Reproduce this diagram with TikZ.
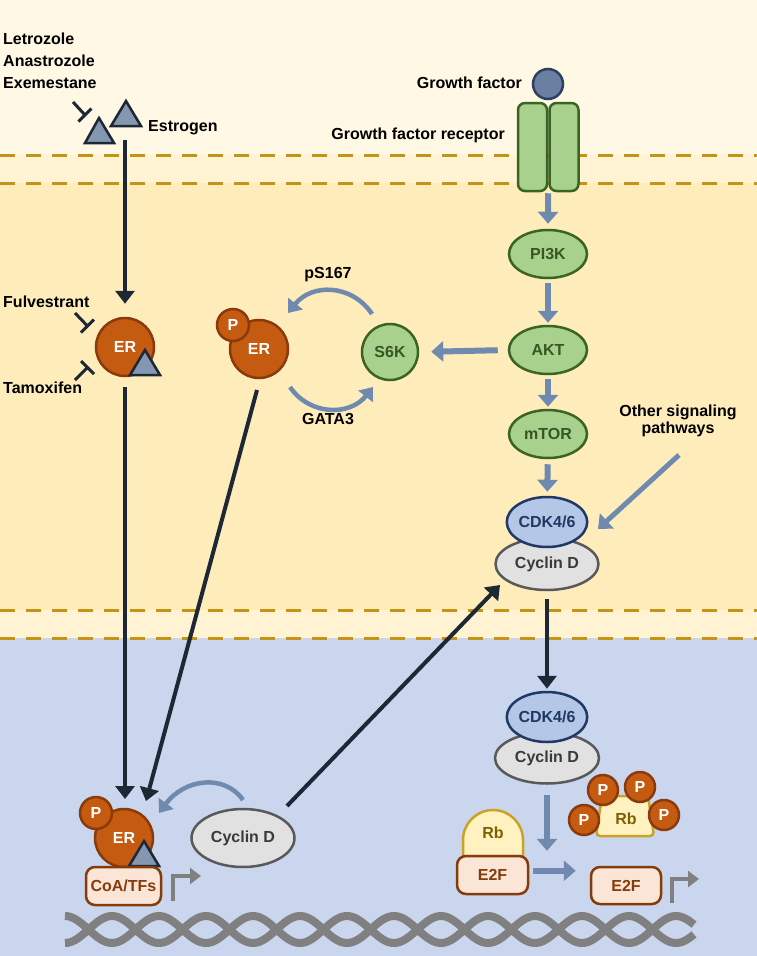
\documentclass[tikz,border=0pt]{standalone}
\usepackage{fontspec}
\setmainfont{Liberation Sans}
\usetikzlibrary{shapes.geometric,arrows.meta}
\definecolor{bgtop}{HTML}{FFF8E5}
\definecolor{bgmem}{HTML}{FFF3D3}
\definecolor{bgcyt}{HTML}{FEEDBB}
\definecolor{bgnuc}{HTML}{CAD6EE}
\definecolor{dashc}{HTML}{C49419}
\definecolor{orfill}{HTML}{C55A11}
\definecolor{ordraw}{HTML}{8A3A0C}
\definecolor{grfill}{HTML}{A9D18E}
\definecolor{grdraw}{HTML}{3B6324}
\definecolor{grtext}{HTML}{375623}
\definecolor{cdkfill}{HTML}{B4C7E7}
\definecolor{cdkdraw}{HTML}{1F3864}
\definecolor{cycfill}{HTML}{E1E1E1}
\definecolor{cycdraw}{HTML}{595959}
\definecolor{cyctext}{HTML}{3A3A3A}
\definecolor{rbfill}{HTML}{FFF2C0}
\definecolor{rbdraw}{HTML}{C9A227}
\definecolor{rbtext}{HTML}{7F6000}
\definecolor{efill}{HTML}{FBE5D6}
\definecolor{edraw}{HTML}{843C0C}
\definecolor{steel}{HTML}{6F8AAE}
\definecolor{darkarr}{HTML}{1E2835}
\definecolor{trifill}{HTML}{8497B0}
\definecolor{gffill}{HTML}{6B7FA3}
\definecolor{gfdraw}{HTML}{2F4060}
\definecolor{dnac}{HTML}{808080}
\tikzset{
  lbl/.style={font=\fontsize{16}{22}\selectfont\bfseries, inner sep=0pt, text=black},
  ntext/.style={font=\fontsize{16}{19}\selectfont\bfseries, inner sep=0pt},
  erball/.style={circle, fill=orfill, draw=ordraw, line width=2.5pt, minimum size=58pt, ntext, text=white},
  pball/.style={circle, fill=orfill, draw=ordraw, line width=2.5pt, minimum size=32pt, ntext, text=white},
  greenell/.style={ellipse, fill=grfill, draw=grdraw, line width=2.5pt, minimum width=78pt, minimum height=48pt, ntext, text=grtext},
  cdkell/.style={ellipse, fill=cdkfill, draw=cdkdraw, line width=2.5pt, minimum width=78pt, minimum height=50pt, ntext, text=cdkdraw},
  cycell/.style={ellipse, fill=cycfill, draw=cycdraw, line width=2.5pt, minimum width=103pt, minimum height=52pt, ntext, text=cyctext},
  ebox/.style={rectangle, rounded corners=9pt, fill=efill, draw=edraw, line width=2.5pt, minimum width=71pt, minimum height=38pt, ntext, text=edraw},
  tri/.style={fill=trifill, draw=darkarr, line width=2.5pt, line join=miter},
  sarrow/.style={draw=steel, line width=6pt, -{Triangle[length=12pt,width=20pt]}},
  carrow/.style={draw=steel, line width=4.5pt, -{Triangle[length=12pt,width=18pt]}},
  barrow/.style={draw=darkarr, line width=4pt, -{Triangle[length=13pt,width=19pt]}},
  inhib/.style={draw=darkarr, line width=3pt},
  tarrow/.style={draw=dnac, line width=4pt, -{Triangle[length=11pt,width=16pt]}},
  memline/.style={draw=dashc, line width=3pt, dash pattern=on 15pt off 11pt},
  dna/.style={draw=dnac, line width=8pt},
}
\begin{document}
\begin{tikzpicture}[x=1pt,y=-1pt]
\useasboundingbox (0,0) rectangle (757,956);
% backgrounds
\fill[bgtop] (0,0) rectangle (757,155);
\fill[bgmem] (0,155) rectangle (757,183);
\fill[bgcyt] (0,183) rectangle (757,610);
\fill[bgmem] (0,610) rectangle (757,638);
\fill[bgnuc] (0,638) rectangle (757,956);
\draw[memline] (0,155) -- (757,155);
\draw[memline] (0,183) -- (757,183);
\draw[memline] (0,610) -- (757,610);
\draw[memline] (0,638) -- (757,638);
% DNA
\draw[dna] plot[domain=65:694, samples=240] (\x, {929.5 + 13.5*cos(3.829787*(\x-65))});
\draw[dna] plot[domain=65:694, samples=240] (\x, {929.5 - 13.5*cos(3.829787*(\x-65))});
% labels
\node[lbl, anchor=north west, align=left] (drugs) at (3,33) {Letrozole\\Anastrozole\\Exemestane};
\node[lbl, anchor=west] (estrolbl) at (148,128) {Estrogen};
\node[lbl, anchor=east] (gflbl) at (522,83) {Growth factor};
\node[lbl, anchor=east] (gfrlbl) at (505,135) {Growth factor receptor};
\node[lbl, anchor=west] (fulv) at (3,302) {Fulvestrant};
\node[lbl, anchor=west] (tamo) at (3,388) {Tamoxifen};
\node[lbl] (ps167) at (328,275) {pS167};
\node[lbl] (gata3) at (328,419) {GATA3};
\node[lbl, align=center, font=\fontsize{16}{17}\selectfont\bfseries] (other) at (678,421) {Other signaling\\pathways};
% estrogen triangles
\draw[tri] (99,118) -- (114,143) -- (85,143) -- cycle;
\draw[tri] (126,101) -- (141,126) -- (111,126) -- cycle;
% growth factor + receptor
\node[circle, fill=gffill, draw=gfdraw, line width=2.5pt, minimum size=30pt, inner sep=0] (gf) at (548,84) {};
\node[rectangle, rounded corners=7pt, fill=grfill, draw=grdraw, line width=2.5pt, minimum width=29pt, minimum height=88pt, inner sep=0] (recl) at (532.5,147) {};
\node[rectangle, rounded corners=7pt, fill=grfill, draw=grdraw, line width=2.5pt, minimum width=29pt, minimum height=88pt, inner sep=0] (recr) at (564,147) {};
% pathway nodes
\node[greenell] (pi3k) at (548,254) {PI3K};
\node[greenell] (akt) at (548,350) {AKT};
\node[greenell] (mtor) at (548,434) {mTOR};
\node[cycell] (cyc1) at (547,564) {Cyclin D};
\node[cdkell] (cdk1) at (547,522) {CDK4/6};
\node[cycell, minimum width=104pt, minimum height=51pt] (cyc2) at (547,758) {Cyclin D};
\node[cdkell] (cdk2) at (547,717) {CDK4/6};
\node[circle, fill=grfill, draw=grdraw, line width=2.5pt, minimum size=56pt, ntext, text=grtext] (s6k) at (390,352) {S6K};
% ER
\node[erball] (er1) at (125,347) {ER};
\draw[tri] (145,350) -- (160,375) -- (130,375) -- cycle;
\node[erball] (per) at (259,349) {ER};
\node[pball] (pp1) at (233,325) {P};
\node[erball] (er2) at (124,838) {ER};
\node[pball] (pp2) at (96,813) {P};
\draw[tri] (144,841) -- (159,866) -- (129,866) -- cycle;
\node[ebox, minimum width=75pt] (coa) at (123.5,886) {CoA/TFs};
\node[cycell, minimum height=58pt] (cycb) at (243,838) {Cyclin D};
% Rb / E2F
\path[fill=rbfill, draw=rbdraw, line width=2.5pt] (463,856) -- (463,840) arc[start angle=180, end angle=360, radius=30] -- (523,856) -- cycle;
\node[ntext, text=rbtext] (rb1) at (493,833) {Rb};
\node[ebox] (e2f1) at (492.5,875) {E2F};
\path[fill=rbfill, draw=rbdraw, line width=2.5pt, rounded corners=4pt] (596,836) -- (602,796) -- (648,796) -- (654,836) -- cycle;
\node[ntext, text=rbtext] (rb2) at (626,819) {Rb};
\node[pball, minimum size=30pt] (rp1) at (603,790) {P};
\node[pball, minimum size=30pt] (rp2) at (640,787) {P};
\node[pball, minimum size=30pt] (rp3) at (584,820) {P};
\node[pball, minimum size=30pt] (rp4) at (664,815) {P};
\node[ebox, minimum width=70pt, minimum height=37pt] (e2f2) at (626,885.5) {E2F};
% coordinates for connector ends
\coordinate (estrotop) at (125,140);
\coordinate (lbar1s) at (73,102);
\coordinate (lbar1e) at (85,115);
\coordinate (lbar1a) at (78.5,121.5);
\coordinate (lbar1b) at (91.5,108.5);
\coordinate (fulvs) at (75,313);
\coordinate (fulve) at (87.5,326);
\coordinate (fulva) at (81,332.5);
\coordinate (fulvb) at (94,319.5);
\coordinate (tamos) at (75,380);
\coordinate (tamoe) at (87.5,367.5);
\coordinate (tamoa) at (81,361);
\coordinate (tamob) at (94,374);
\coordinate (er1bot) at (125,387);
\coordinate (er2tipa) at (125,799);
\coordinate (perbot) at (257,390);
\coordinate (er2tipb) at (146,801);
\coordinate (cycbtop) at (287,806);
\coordinate (cyc1tip) at (500,585);
\coordinate (othertail) at (679,455);
\coordinate (cdk1tip) at (598,529);
\coordinate (tx1) at (173,901);
\coordinate (tx1e) at (201,876);
\coordinate (tx2) at (672,903);
\coordinate (tx2e) at (699,879);
% inhibitors
\draw[inhib] (lbar1s) -- (lbar1e) (lbar1a) -- (lbar1b);
\draw[inhib] (fulvs) -- (fulve) (fulva) -- (fulvb);
\draw[inhib] (tamos) -- (tamoe) (tamoa) -- (tamob);
% black arrows
\draw[barrow, shorten >=13pt] (estrotop) -- (er1.north);
\draw[barrow] (er1bot) -- (er2tipa);
\draw[barrow] (perbot) -- (er2tipb);
\draw[barrow] (cycbtop) -- (cyc1tip);
\draw[barrow, shorten <=8pt, shorten >=2pt] (cyc1.south) -- (cdk2.north);
% steel arrows
\draw[sarrow, shorten <=4pt, shorten >=5pt] ([yshift=3pt]recl.south east) -- (pi3k.north);
\draw[sarrow, shorten <=4pt, shorten >=2pt] (pi3k) -- (akt);
\draw[sarrow, shorten <=4pt, shorten >=2pt] (akt) -- (mtor);
\draw[sarrow, shorten <=5pt, shorten >=4pt] (mtor) -- (cdk1);
\draw[sarrow, shorten <=10pt, shorten >=12pt] (akt.west) -- (s6k.east);
\draw[sarrow, line width=5pt] (othertail) -- (cdk1tip);
\draw[sarrow, shorten <=10pt, shorten >=16pt] (cyc2.south) -- ([yshift=-12pt]e2f1.north -| cyc2.south);
\draw[sarrow, shorten <=4pt, shorten >=14pt] ([yshift=-16pt]e2f1.north east) -- ([yshift=-16pt]e2f1.north east -| e2f2.west);
\draw[carrow] (372,314) .. controls (352,284) and (312,283) .. (288,313);
\draw[carrow] (290,387) .. controls (310,416) and (350,416) .. (373,387);
\draw[carrow] (243,800) .. controls (225,774) and (185,778) .. (159,813);
% transcription arrows
\draw[tarrow] (tx1) |- (tx1e);
\draw[tarrow] (tx2) |- (tx2e);
\end{tikzpicture}
\end{document}
